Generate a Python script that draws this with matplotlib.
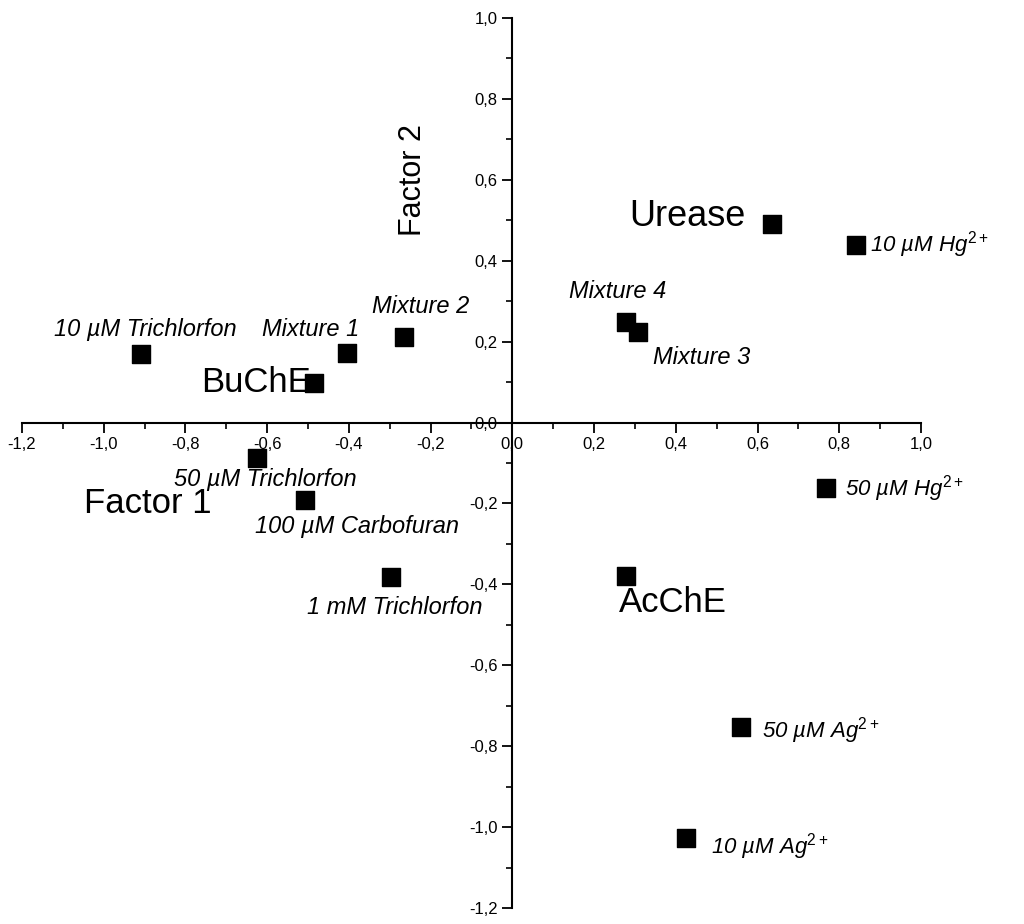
import matplotlib
matplotlib.use("Agg")
import matplotlib.pyplot as plt
from matplotlib.ticker import MultipleLocator, FuncFormatter

plt.rcParams["font.family"] = ["Liberation Sans", "DejaVu Sans"]
plt.rcParams["mathtext.fontset"] = "custom"
plt.rcParams["mathtext.rm"] = "Liberation Sans"
plt.rcParams["mathtext.it"] = "Liberation Sans:italic"
plt.rcParams["mathtext.default"] = "it"

# sample points (Factor 1, Factor 2)
names = ["Urease", "10 µM Hg", "Mixture 4", "Mixture 3", "Mixture 2", "Mixture 1",
         "10 µM Trichlorfon", "BuChE", "50 µM Trichlorfon", "100 µM Carbofuran",
         "1 mM Trichlorfon", "AcChE", "50 µM Hg", "50 µM Ag", "10 µM Ag"]
f1 = [0.636, 0.842, 0.279, 0.308, -0.264, -0.404, -0.910, -0.485, -0.624, -0.507,
      -0.296, 0.279, 0.768, 0.560, 0.426]
f2 = [0.490, 0.439, 0.249, 0.224, 0.212, 0.172, 0.169, 0.098, -0.087, -0.191,
      -0.382, -0.379, -0.162, -0.752, -1.027]

# label text, anchor, alignment, size, italic
labels = [
    ("Urease", 0.57, 0.51, "right", 26, False),
    ("10 µM Hg$^{2+}$", 0.876, 0.44, "left", 16, True),
    ("Mixture 4", 0.257, 0.325, "center", 17, True),
    ("Mixture 3", 0.343, 0.162, "left", 17, True),
    ("Mixture 2", -0.225, 0.288, "center", 17, True),
    ("Mixture 1", -0.494, 0.231, "center", 17, True),
    ("10 µM Trichlorfon", -0.898, 0.229, "center", 17, True),
    ("BuChE", -0.494, 0.098, "right", 25, False),
    ("50 µM Trichlorfon", -0.604, -0.142, "center", 17, True),
    ("Factor 1", -0.893, -0.199, "center", 25, False),
    ("100 µM Carbofuran", -0.379, -0.258, "center", 17, True),
    ("1 mM Trichlorfon", -0.289, -0.456, "center", 17, True),
    ("AcChE", 0.392, -0.446, "center", 25, False),
    ("50 µM Hg$^{2+}$", 0.815, -0.164, "left", 16, True),
    ("50 µM Ag$^{2+}$", 0.612, -0.762, "left", 16, True),
    ("10 µM Ag$^{2+}$", 0.485, -1.047, "left", 16, True),
]

fig = plt.figure(figsize=(10.24, 9.24), dpi=100)
ax = fig.add_axes([22 / 1024, 16 / 924, 899 / 1024, 890 / 924])
ax.set_xlim(-1.2, 1.0)
ax.set_ylim(-1.2, 1.0)

ax.scatter(f1, f2, marker="s", s=150, color="black", zorder=3)

for text, x, y, ha, size, ital in labels:
    ax.text(x, y, text, ha=ha, va="center", fontsize=size,
            style="italic" if ital else "normal", zorder=4)
ax.text(-0.242, 0.60, "Factor 2", rotation=90, ha="center", va="center", fontsize=22)

for s in ["top", "right"]:
    ax.spines[s].set_visible(False)
ax.spines["left"].set_position(("data", 0))
ax.spines["bottom"].set_position(("data", 0))
for s in ["left", "bottom"]:
    ax.spines[s].set_linewidth(1.5)

fmt = FuncFormatter(lambda v, p: f"{v:.1f}".replace(".", ",").replace("-0,0", "0,0"))
for axis in (ax.xaxis, ax.yaxis):
    axis.set_major_locator(MultipleLocator(0.2))
    axis.set_minor_locator(MultipleLocator(0.1))
    axis.set_major_formatter(fmt)
ax.tick_params(which="major", direction="out", length=7, width=1.3, labelsize=12)
ax.tick_params(which="minor", direction="out", length=4, width=1.2)

fig.savefig("out.png", dpi=100)
